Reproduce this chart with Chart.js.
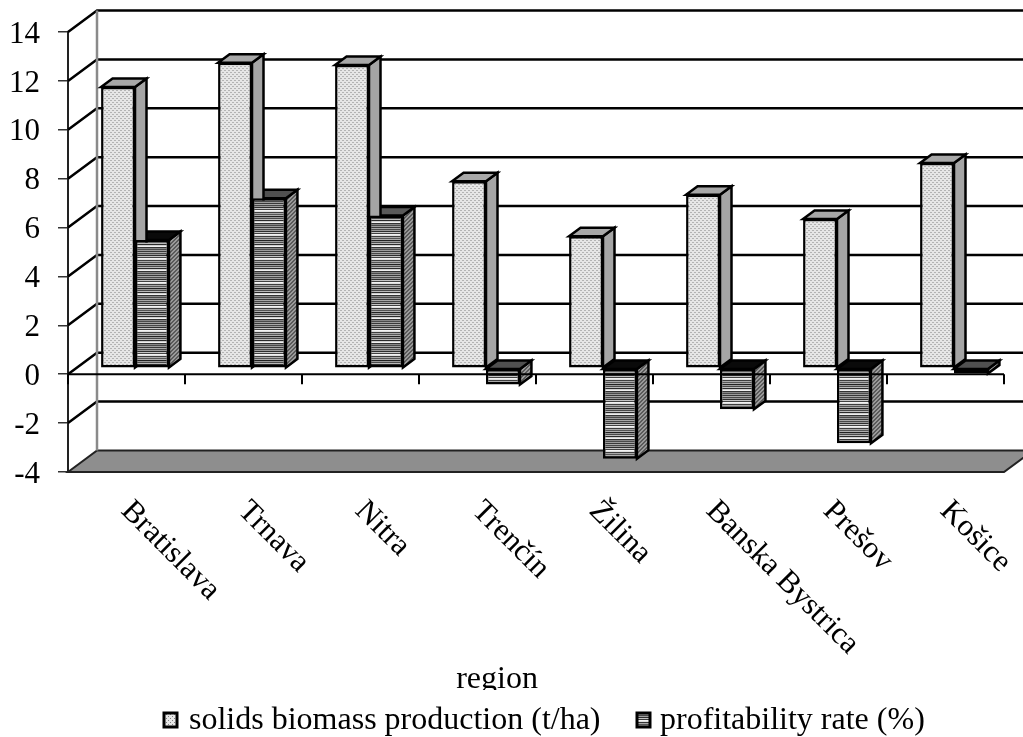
<!DOCTYPE html>
<html>
<head>
<meta charset="utf-8">
<title>Biomass production and profitability by region</title>
<script src="https://cdn.jsdelivr.net/npm/chart.js@4"></script>
<style>
  html, body { margin: 0; background: #fff; }
  canvas { display: block; }
</style>
</head>
<body>
<canvas id="chart" width="1023" height="737"></canvas>
<script>
const regions = ['Bratislava', 'Trnava', 'Nitra', 'Trenčín', 'Žilina', 'Banska Bystrica', 'Prešov', 'Košice'];
const biomass = [11.5, 12.5, 12.4, 7.65, 5.4, 7.1, 6.1, 8.4];
const profitability = [5.25, 6.95, 6.25, -0.67, -3.7, -1.68, -3.07, -0.22];
const yTicks = [14, 12, 10, 8, 6, 4, 2, 0, -2, -4];

const serif = '"Liberation Serif", "Times New Roman", serif';
const tickSize = 31;
const labelSize = 31;
const legendSize = 32;

// the 3d look: wall sits behind the axes, bars stand part way in
const wall = { dx: 29, dy: -21.5 };
const barShift = { dx: 8.5, dy: -6 };
const barDepth = { dx: 11.5, dy: -8.5 };

function tile(w, h, paint) {
  const c = document.createElement('canvas');
  c.width = w;
  c.height = h;
  paint(c.getContext('2d'));
  return c.getContext('2d').createPattern(c, 'repeat');
}

function dots(bg, fg, step) {
  return tile(step, step, g => {
    g.fillStyle = bg;
    g.fillRect(0, 0, step, step);
    g.fillStyle = fg;
    g.fillRect(0, 0, 1, 1);
    g.fillRect(step / 2, step / 2, 1, 1);
  });
}

function stripes(colors) {
  return tile(2, colors.length, g => {
    colors.forEach((col, i) => {
      g.fillStyle = col;
      g.fillRect(0, i, 2, 1);
    });
  });
}

const hatch = tile(4, 4, g => {
  g.fillStyle = '#9a9a9a';
  g.fillRect(0, 0, 4, 4);
  g.fillStyle = '#1a1a1a';
  for (let i = 0; i < 4; i++) g.fillRect(i, 3 - i, 1, 1);
});

const biomassFront = dots('#e6e6e6', '#808080', 4);
const biomassSide = dots('#c0c0c0', '#8a8a8a', 2);
const biomassTop = dots('#c0c0c0', '#909090', 2);
// uneven on purpose, the original stripes beat against the pixel grid
const profitFront = stripes([
  '#f2f2f2', '#dddddd', '#333333', '#a8a8a8', '#555555', '#b4b4b4', '#222222', '#999999',
  '#444444', '#bbbbbb', '#2a2a2a', '#d8d8d8', '#f0f0f0', '#333333', '#8c8c8c', '#4a4a4a',
  '#9c9c9c', '#333333', '#a8a8a8', '#484848', '#a0a0a0', '#2e2e2e', '#c4c4c4', '#3a3a3a'
]);
const profitTop = ['#0a0a0a', '#505050', '#5a5a5a', '#505050', '#0a0a0a', '#0a0a0a', '#0a0a0a', '#505050'];

const room3d = {
  id: 'room3d',
  beforeDatasetsDraw(chart) {
    const { ctx, scales: { x, y } } = chart;
    const right = chart.width;

    ctx.save();
    // floor
    const floorY = y.getPixelForValue(yTicks[yTicks.length - 1]);
    ctx.beginPath();
    ctx.moveTo(x.left, floorY);
    ctx.lineTo(x.left + wall.dx, floorY + wall.dy);
    ctx.lineTo(x.right + wall.dx, floorY + wall.dy);
    ctx.lineTo(x.right, floorY);
    ctx.closePath();
    ctx.fillStyle = '#8e8e8e';
    ctx.fill();
    ctx.strokeStyle = '#222';
    ctx.lineWidth = 2;
    ctx.stroke();

    // back wall lines and the slanted bits to the axis
    yTicks.slice(0, -1).forEach(v => {
      const py = y.getPixelForValue(v);
      ctx.beginPath();
      ctx.moveTo(x.left, py);
      ctx.lineTo(x.left + wall.dx, py + wall.dy);
      ctx.lineTo(right, py + wall.dy);
      ctx.strokeStyle = '#000';
      ctx.lineWidth = 2.5;
      ctx.stroke();
    });

    // left edge of the wall
    ctx.beginPath();
    ctx.moveTo(x.left + wall.dx, y.top + wall.dy);
    ctx.lineTo(x.left + wall.dx, floorY + wall.dy);
    ctx.strokeStyle = '#8a8a8a';
    ctx.lineWidth = 2.5;
    ctx.stroke();
    ctx.restore();

    // side and top faces, then the library paints the fronts over them
    ctx.save();
    ctx.translate(barShift.dx, barShift.dy);
    chart.getSortedVisibleDatasetMetas().slice().reverse().forEach(meta => {
      meta.data.forEach((bar, i) => {
        const { x: cx, y: vy, base, width } = bar.getProps(['x', 'y', 'base', 'width']);
        const l = cx - width / 2;
        const r = cx + width / 2;
        const t = Math.min(vy, base);
        const b = Math.max(vy, base);
        const isBiomass = meta.index === 0;
        face(ctx, [[r, t], [r + barDepth.dx, t + barDepth.dy], [r + barDepth.dx, b + barDepth.dy], [r, b]],
          isBiomass ? biomassSide : hatch);
        face(ctx, [[l, t], [l + barDepth.dx, t + barDepth.dy], [r + barDepth.dx, t + barDepth.dy], [r, t]],
          isBiomass ? biomassTop : profitTop[i]);
      });
    });
    // left open on purpose, closed in afterDatasetsDraw
  },
  afterDatasetsDraw(chart) {
    const { ctx, scales: { x, y } } = chart;
    ctx.restore();

    // zero line with its ticks lies over the bars
    const zero = y.getPixelForValue(0);
    ctx.save();
    ctx.strokeStyle = '#000';
    ctx.lineWidth = 2;
    ctx.beginPath();
    ctx.moveTo(x.left, zero);
    ctx.lineTo(x.right, zero);
    regions.forEach((_, i) => {
      const tx = x.left + (i + 1) * x.width / regions.length;
      ctx.moveTo(tx, zero);
      ctx.lineTo(tx, zero + 10);
    });
    ctx.moveTo(x.left, zero);
    ctx.lineTo(x.left, zero + 10);
    ctx.stroke();
    ctx.restore();
  },
  afterDraw(chart) {
    const { ctx, scales: { x, y } } = chart;
    ctx.save();
    ctx.fillStyle = '#000';

    // y labels sit a little under the tick, the library centres them higher
    ctx.font = tickSize + 'px ' + serif;
    ctx.textAlign = 'right';
    ctx.textBaseline = 'middle';
    y.ticks.forEach((t, i) => {
      ctx.fillText(t.label, 40, y.getPixelForTick(i) + 2.5);
    });

    // slanted region names, these run downhill so the tick labels can't do it
    ctx.font = labelSize + 'px ' + serif;
    ctx.textBaseline = 'alphabetic';
    ctx.textAlign = 'left';
    regions.forEach((name, i) => {
      ctx.save();
      ctx.translate(x.getPixelForTick(i) - 6.5, 512);
      ctx.rotate(Math.PI / 4);
      ctx.fillText(name, 0, 0);
      ctx.restore();
    });

    // axis title, its descender is cut off in the original
    ctx.save();
    ctx.beginPath();
    ctx.rect(0, 660, chart.width, 30);
    ctx.clip();
    ctx.font = legendSize + 'px ' + serif;
    ctx.textAlign = 'center';
    ctx.fillText('region', 497, 688);
    ctx.restore();

    // legend
    ctx.font = legendSize + 'px ' + serif;
    ctx.textAlign = 'left';
    const entries = [[164, 189, biomassFront], [637, 660, profitFront]];
    chart.data.datasets.forEach((ds, i) => {
      const [boxX, textX, fill] = entries[i];
      ctx.fillStyle = fill;
      ctx.fillRect(boxX, 713, 13, 14);
      ctx.strokeStyle = '#000';
      ctx.lineWidth = 3;
      ctx.strokeRect(boxX, 713, 13, 14);
      ctx.fillStyle = '#000';
      ctx.fillText(ds.label, textX, 729);
    });
    ctx.restore();
  }
};

function face(ctx, pts, fill) {
  ctx.beginPath();
  pts.forEach((p, i) => (i ? ctx.lineTo(p[0], p[1]) : ctx.moveTo(p[0], p[1])));
  ctx.closePath();
  ctx.fillStyle = fill;
  ctx.fill();
  ctx.strokeStyle = '#000';
  ctx.lineWidth = 2.5;
  ctx.stroke();
}

new Chart(document.getElementById('chart'), {
  type: 'bar',
  data: {
    labels: regions,
    datasets: [
      { label: 'solids biomass production (t/ha)', data: biomass, backgroundColor: biomassFront },
      { label: 'profitability rate (%)', data: profitability, backgroundColor: profitFront }
    ]
  },
  options: {
    responsive: false,
    animation: false,
    devicePixelRatio: 1,
    layout: { autoPadding: false, padding: { top: 32, right: 19, bottom: 265 } },
    datasets: {
      bar: {
        categoryPercentage: 0.58,
        barPercentage: 1,
        borderColor: '#000',
        borderWidth: 2.5,
        borderSkipped: false
      }
    },
    plugins: { legend: { display: false }, tooltip: { enabled: false } },
    scales: {
      x: { display: false },
      y: {
        min: -4,
        max: 14,
        afterFit(axis) { axis.width = 68; },
        ticks: { display: false, stepSize: 2 },
        grid: { drawOnChartArea: false, tickLength: 10, color: '#333', lineWidth: 1.5 },
        border: { color: '#222', width: 2 }
      }
    }
  },
  plugins: [room3d]
});
</script>
</body>
</html>
